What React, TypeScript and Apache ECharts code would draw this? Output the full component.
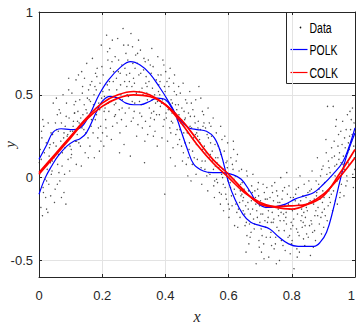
import React, { useEffect, useRef } from "react";
import * as echarts from "echarts";

const xTicks = [0, 0.2, 0.4, 0.6, 0.8, 1];
const yTicks = [-0.5, 0, 0.5, 1];

const dataPoints: [number, number][] = [
  [0.001,0.09],[0.006,-0.18],[0.009,0.24],[0.013,-0.06],[0.002,0.02],[0.017,0.15],[0.011,-0.23],[0.015,0.31],[0.019,-0.01],[0.007,0.11],
  [0.021,-0.12],[0.033,0.18],[0.026,0.05],[0.038,0.27],[0.024,-0.19],[0.036,0.09],[0.029,0.33],[0.031,-0.04],[0.023,0.21],[0.039,0.02],
  [0.043,0.26],[0.051,-0.07],[0.047,0.12],[0.058,0.38],[0.041,0.04],[0.054,0.19],[0.049,-0.15],[0.056,0.29],[0.045,0.45],[0.059,0.08],
  [0.062,0.14],[0.071,0.33],[0.066,-0.02],[0.078,0.24],[0.064,0.41],[0.073,0.07],[0.069,0.22],[0.076,0.50],[0.061,0.28],[0.079,-0.09],
  [0.083,0.31],[0.092,0.11],[0.087,0.45],[0.098,0.19],[0.081,0.02],[0.095,0.36],[0.089,0.25],[0.094,0.53],[0.085,-0.16],[0.099,0.28],
  [0.102,0.17],[0.113,0.39],[0.106,0.28],[0.118,0.08],[0.104,0.51],[0.115,0.22],[0.109,0.34],[0.117,0.59],[0.101,0.12],[0.111,0.44],
  [0.123,0.40],[0.131,0.19],[0.127,0.33],[0.138,0.55],[0.121,0.26],[0.134,0.07],[0.129,0.47],[0.136,0.30],[0.125,0.62],[0.139,0.38],
  [0.142,0.29],[0.153,0.48],[0.146,0.15],[0.158,0.37],[0.144,0.60],[0.155,0.24],[0.149,0.41],[0.157,0.53],[0.141,0.34],[0.151,0.69],
  [0.163,0.46],[0.171,0.27],[0.167,0.58],[0.178,0.35],[0.161,0.19],[0.174,0.50],[0.169,0.72],[0.176,0.41],[0.165,0.31],[0.179,0.63],
  [0.182,0.38],[0.193,0.57],[0.186,0.24],[0.198,0.48],[0.184,0.66],[0.195,0.31],[0.189,0.45],[0.197,0.80],[0.181,0.53],[0.191,0.16],
  [0.203,0.62],[0.211,0.35],[0.207,0.49],[0.218,0.71],[0.201,0.27],[0.214,0.86],[0.209,0.42],[0.216,0.56],[0.205,0.19],[0.219,0.45],
  [0.222,0.53],[0.233,0.31],[0.226,0.66],[0.238,0.44],[0.224,0.78],[0.235,0.58],[0.229,0.23],[0.237,0.49],[0.221,0.40],[0.231,0.70],
  [0.243,0.45],[0.251,0.64],[0.247,0.33],[0.258,0.56],[0.241,0.73],[0.254,0.41],[0.249,0.84],[0.256,0.27],[0.245,0.60],[0.259,0.50],
  [0.262,0.68],[0.273,0.39],[0.266,0.90],[0.278,0.55],[0.264,0.47],[0.275,0.75],[0.269,0.20],[0.277,0.62],[0.261,0.35],[0.271,0.58],
  [0.283,0.49],[0.291,0.87],[0.287,0.63],[0.298,0.36],[0.281,0.71],[0.294,0.55],[0.289,0.13],[0.296,0.79],[0.285,0.42],[0.299,0.60],
  [0.302,0.57],[0.313,0.32],[0.306,0.74],[0.318,0.46],[0.304,0.66],[0.315,0.83],[0.309,0.25],[0.317,0.52],[0.301,0.40],[0.311,0.69],
  [0.323,0.44],[0.331,0.65],[0.327,0.30],[0.338,0.57],[0.321,0.77],[0.334,0.09],[0.329,0.50],[0.336,0.70],[0.325,0.37],[0.339,0.61],
  [0.342,0.55],[0.353,0.36],[0.346,0.71],[0.358,0.47],[0.344,0.26],[0.355,0.63],[0.349,0.42],[0.357,0.78],[0.341,0.51],[0.351,0.31],
  [0.363,0.40],[0.371,0.59],[0.367,0.28],[0.378,0.52],[0.361,0.67],[0.374,0.19],[0.369,0.45],[0.376,0.73],[0.365,0.35],[0.379,0.56],
  [0.382,0.50],[0.393,0.31],[0.386,0.62],[0.398,-0.10],[0.384,0.43],[0.395,0.68],[0.389,0.24],[0.397,0.55],[0.381,0.38],[0.391,0.47],
  [0.403,0.36],[0.411,0.55],[0.407,0.22],[0.418,0.47],[0.401,0.64],[0.414,0.30],[0.409,0.41],[0.416,0.12],[0.405,0.58],[0.419,0.34],
  [0.422,0.45],[0.433,0.26],[0.426,0.57],[0.438,0.35],[0.424,0.18],[0.435,0.50],[0.429,0.62],[0.437,0.29],[0.421,0.39],[0.431,0.07],
  [0.443,0.38],[0.451,0.19],[0.447,0.51],[0.458,0.27],[0.441,0.44],[0.454,0.10],[0.449,0.33],[0.456,0.57],[0.445,0.23],[0.459,0.40],
  [0.462,0.21],[0.473,0.39],[0.466,0.08],[0.478,0.31],[0.464,0.47],[0.475,0.17],[0.469,0.27],[0.477,0.52],[0.461,0.35],[0.471,0.01],
  [0.483,0.30],[0.491,0.12],[0.487,0.41],[0.498,0.20],[0.481,-0.02],[0.494,0.33],[0.489,0.24],[0.496,0.47],[0.485,0.08],[0.499,0.27],
  [0.502,0.25],[0.513,0.06],[0.506,0.55],[0.518,0.17],[0.504,0.34],[0.515,-0.04],[0.509,0.21],[0.517,0.40],[0.501,0.11],[0.511,0.29],
  [0.523,0.19],[0.531,0.01],[0.527,0.30],[0.538,0.12],[0.521,0.38],[0.534,-0.08],[0.529,0.15],[0.536,0.24],[0.525,0.05],[0.539,0.33],
  [0.542,0.14],[0.553,-0.05],[0.546,0.25],[0.558,0.07],[0.544,0.31],[0.555,-0.12],[0.549,0.10],[0.557,0.20],[0.541,0.02],[0.551,0.36],
  [0.563,0.09],[0.571,-0.09],[0.567,0.19],[0.578,0.02],[0.561,0.27],[0.574,-0.16],[0.569,0.06],[0.576,0.14],[0.565,-0.03],[0.579,0.23],
  [0.582,0.05],[0.593,-0.13],[0.586,0.16],[0.598,-0.02],[0.584,-0.20],[0.595,0.10],[0.589,-0.06],[0.597,0.21],[0.581,0.00],[0.591,-0.10],
  [0.603,0.01],[0.611,-0.17],[0.607,0.12],[0.618,-0.07],[0.601,-0.24],[0.614,0.05],[0.609,-0.11],[0.616,0.17],[0.605,-0.03],[0.619,-0.29],
  [0.622,-0.10],[0.633,0.04],[0.626,-0.21],[0.638,-0.04],[0.624,0.10],[0.635,-0.15],[0.629,-0.30],[0.637,-0.08],[0.621,0.01],[0.631,-0.19],
  [0.643,-0.03],[0.651,-0.22],[0.647,-0.12],[0.658,-0.35],[0.641,0.05],[0.654,-0.17],[0.649,-0.07],[0.656,-0.27],[0.645,-0.14],[0.659,0.01],
  [0.662,-0.19],[0.673,-0.05],[0.666,-0.28],[0.678,-0.13],[0.664,-0.40],[0.675,-0.09],[0.669,-0.22],[0.677,0.02],[0.661,-0.15],[0.671,-0.33],
  [0.683,-0.08],[0.691,-0.24],[0.687,-0.52],[0.698,-0.17],[0.681,-0.31],[0.694,-0.03],[0.689,-0.20],[0.696,-0.38],[0.685,-0.12],[0.699,-0.27],
  [0.702,-0.22],[0.713,-0.09],[0.706,-0.35],[0.718,-0.18],[0.704,-0.45],[0.715,-0.26],[0.709,-0.04],[0.717,-0.30],[0.701,-0.14],[0.711,-0.40],
  [0.723,-0.27],[0.731,-0.12],[0.727,-0.48],[0.738,-0.21],[0.721,-0.06],[0.734,-0.33],[0.729,-0.17],[0.736,-0.41],[0.725,-0.24],[0.739,-0.09],
  [0.742,-0.14],[0.753,-0.30],[0.746,-0.03],[0.758,-0.23],[0.744,-0.43],[0.755,-0.11],[0.749,-0.36],[0.757,-0.19],[0.741,-0.27],[0.751,-0.52],
  [0.763,-0.26],[0.771,-0.08],[0.767,-0.38],[0.778,-0.17],[0.761,-0.50],[0.774,-0.22],[0.769,-0.13],[0.776,-0.32],[0.765,0.00],[0.779,-0.44],
  [0.782,-0.21],[0.793,-0.35],[0.786,-0.10],[0.798,-0.27],[0.784,0.03],[0.795,-0.46],[0.789,-0.16],[0.797,-0.31],[0.781,-0.24],[0.791,-0.05],
  [0.803,-0.29],[0.811,-0.14],[0.807,-0.55],[0.818,-0.22],[0.801,-0.38],[0.814,-0.07],[0.809,-0.19],[0.816,-0.43],[0.805,-0.12],[0.819,-0.33],
  [0.822,-0.16],[0.833,-0.30],[0.826,0.01],[0.838,-0.21],[0.824,-0.45],[0.835,-0.11],[0.829,-0.26],[0.837,-0.37],[0.821,-0.06],[0.831,-0.19],
  [0.843,-0.24],[0.851,-0.09],[0.847,-0.34],[0.858,-0.14],[0.841,-0.41],[0.854,-0.02],[0.849,-0.20],[0.856,-0.29],[0.845,-0.12],[0.859,-0.47],
  [0.862,-0.07],[0.873,-0.23],[0.866,-0.33],[0.878,-0.11],[0.864,0.04],[0.875,-0.38],[0.869,-0.16],[0.877,-0.02],[0.861,-0.26],[0.871,-0.13],
  [0.883,-0.18],[0.891,0.01],[0.887,-0.28],[0.898,-0.08],[0.881,0.12],[0.894,-0.34],[0.889,-0.13],[0.896,-0.21],[0.885,-0.04],[0.899,0.07],
  [0.902,-0.12],[0.913,0.43],[0.906,-0.23],[0.918,0.06],[0.904,-0.03],[0.915,-0.17],[0.909,0.15],[0.917,-0.08],[0.901,-0.30],[0.911,0.02],
  [0.923,-0.06],[0.931,0.43],[0.927,0.12],[0.938,-0.14],[0.921,0.03],[0.934,0.22],[0.929,-0.20],[0.936,0.07],[0.925,-0.10],[0.939,0.31],
  [0.942,0.08],[0.953,-0.09],[0.946,0.19],[0.958,0.02],[0.944,-0.16],[0.955,0.28],[0.949,0.11],[0.957,-0.04],[0.941,0.35],[0.951,0.15],
  [0.963,0.13],[0.971,-0.05],[0.967,0.24],[0.978,0.09],[0.961,0.34],[0.974,0.01],[0.969,0.18],[0.976,0.38],[0.965,-0.11],[0.979,0.21],
  [0.982,0.17],[0.993,0.02],[0.986,0.29],[0.998,0.12],[0.984,0.40],[0.995,-0.06],[0.989,0.22],[0.997,0.33],[0.981,0.08],[0.991,0.26],
  [0.004,0.17],[0.014,-0.09],[0.035,0.20],[0.028,-0.21],[0.019,0.07],[0.008,0.28],[0.032,0.13],[0.024,-0.02],[0.037,-0.11],[0.012,0.35],
  [0.046,0.21],[0.063,0.03],[0.052,0.33],[0.074,0.15],[0.058,-0.04],[0.068,0.39],[0.042,0.10],[0.079,0.27],[0.055,0.48],[0.071,-0.12],
  [0.086,0.37],[0.103,0.14],[0.091,0.26],[0.116,0.46],[0.097,0.04],[0.108,0.31],[0.082,0.18],[0.119,0.22],[0.094,0.60],[0.112,0.39],
  [0.126,0.21],[0.143,0.44],[0.132,0.36],[0.156,0.12],[0.137,0.51],[0.148,0.27],[0.122,0.34],[0.159,0.47],[0.135,0.64],[0.152,0.39],
  [0.166,0.35],[0.183,0.61],[0.172,0.44],[0.196,0.22],[0.177,0.55],[0.188,0.30],[0.162,0.56],[0.199,0.67],[0.175,0.12],[0.192,0.41],
  [0.206,0.40],[0.223,0.58],[0.212,0.30],[0.236,0.64],[0.217,0.76],[0.228,0.46],[0.202,0.52],[0.239,0.37],[0.215,0.25],[0.232,0.83],
  [0.246,0.53],[0.263,0.42],[0.252,0.71],[0.276,0.31],[0.257,0.63],[0.268,0.80],[0.242,0.38],[0.279,0.50],[0.255,0.15],[0.272,0.66],
  [0.286,0.58],[0.303,0.45],[0.292,0.34],[0.316,0.62],[0.297,0.69],[0.308,0.51],[0.282,0.80],[0.319,0.39],[0.295,0.46],[0.312,0.75],
  [0.326,0.54],[0.343,0.47],[0.332,0.72],[0.356,0.39],[0.337,0.34],[0.348,0.58],[0.322,0.63],[0.359,0.54],[0.335,0.22],[0.352,0.68],
  [0.366,0.50],[0.383,0.58],[0.372,0.38],[0.396,0.35],[0.377,0.62],[0.388,0.45],[0.362,0.25],[0.399,0.52],[0.375,0.46],[0.392,0.71],
  [0.406,0.47],[0.423,0.33],[0.412,0.60],[0.436,0.41],[0.417,0.27],[0.428,0.52],[0.402,0.39],[0.439,0.20],[0.415,0.66],[0.432,0.44],
  [0.446,0.29],[0.463,0.36],[0.452,0.42],[0.476,0.21],[0.457,0.15],[0.468,0.45],[0.442,0.55],[0.479,0.37],[0.455,0.32],[0.472,0.12],
  [0.486,0.16],[0.503,0.30],[0.492,0.37],[0.516,0.10],[0.497,0.02],[0.508,0.23],[0.482,0.45],[0.519,0.31],[0.495,0.26],[0.512,0.48],
  [0.526,0.10],[0.543,0.21],[0.532,0.26],[0.556,-0.02],[0.537,0.03],[0.548,0.16],[0.522,0.33],[0.559,0.12],[0.535,0.42],[0.552,0.05],
  [0.566,0.12],[0.583,-0.04],[0.572,0.17],[0.596,0.06],[0.577,-0.10],[0.588,0.25],[0.562,-0.01],[0.599,-0.16],[0.575,0.31],[0.592,0.09],
  [0.606,-0.06],[0.623,-0.16],[0.612,0.08],[0.636,-0.24],[0.617,-0.01],[0.628,0.14],[0.602,-0.19],[0.639,-0.11],[0.615,0.22],[0.632,-0.05],
  [0.646,-0.20],[0.663,-0.08],[0.652,-0.29],[0.676,-0.19],[0.657,0.04],[0.668,-0.36],[0.642,-0.10],[0.679,-0.25],[0.655,-0.45],[0.672,-0.14],
  [0.686,-0.16],[0.703,-0.31],[0.692,-0.07],[0.716,-0.13],[0.697,-0.42],[0.708,-0.22],[0.682,-0.28],[0.719,-0.36],[0.695,-0.11],[0.712,-0.49],
  [0.726,-0.20],[0.743,-0.25],[0.732,-0.36],[0.756,-0.15],[0.737,-0.05],[0.748,-0.40],[0.722,-0.13],[0.759,-0.32],[0.735,-0.27],[0.752,-0.08],
  [0.766,-0.21],[0.783,-0.28],[0.772,-0.41],[0.796,-0.12],[0.777,-0.06],[0.788,-0.36],[0.762,-0.15],[0.799,-0.40],[0.775,-0.26],[0.792,-0.19],
  [0.806,-0.25],[0.823,-0.35],[0.812,-0.10],[0.836,-0.27],[0.817,-0.48],[0.828,-0.14],[0.802,-0.20],[0.839,-0.04],[0.815,-0.31],[0.832,-0.23],
  [0.846,-0.18],[0.863,-0.28],[0.852,-0.36],[0.876,-0.20],[0.857,-0.08],[0.868,-0.42],[0.842,-0.29],[0.879,-0.09],[0.855,-0.15],[0.872,-0.32],
  [0.886,-0.07],[0.903,-0.19],[0.892,-0.24],[0.916,0.10],[0.897,-0.15],[0.908,0.23],[0.882,-0.23],[0.919,-0.12],[0.895,0.05],[0.912,-0.26],
  [0.926,0.18],[0.943,-0.02],[0.932,-0.08],[0.956,0.09],[0.937,0.01],[0.948,0.26],[0.922,-0.15],[0.959,0.20],[0.935,0.13],[0.952,-0.12],
  [0.966,0.05],[0.983,0.25],[0.972,0.29],[0.996,0.19],[0.977,0.15],[0.988,0.35],[0.962,0.08],[0.999,0.05],[0.975,-0.02],[0.992,0.42],
];

const polkA: [number, number][] = [
  [0,0.11],[0.025,0.20],[0.045,0.275],[0.07,0.295],[0.1,0.29],[0.13,0.30],[0.16,0.38],[0.19,0.50],
  [0.22,0.59],[0.26,0.67],[0.29,0.70],[0.32,0.68],[0.35,0.63],[0.38,0.55],[0.41,0.46],[0.43,0.39],
  [0.45,0.28],[0.47,0.17],[0.49,0.08],[0.52,0.04],[0.55,0.03],[0.58,0.03],[0.61,0.02],[0.64,-0.01],
  [0.67,-0.09],[0.69,-0.15],[0.72,-0.18],[0.75,-0.175],[0.78,-0.16],[0.81,-0.13],[0.84,-0.11],
  [0.87,-0.09],[0.9,-0.04],[0.93,0.02],[0.96,0.09],[0.98,0.18],[1,0.30],
];
const polkB: [number, number][] = [
  [0,-0.10],[0.02,0.0],[0.04,0.07],[0.06,0.13],[0.088,0.19],[0.11,0.22],[0.13,0.235],[0.15,0.27],
  [0.18,0.39],[0.2,0.46],[0.225,0.49],[0.25,0.48],[0.275,0.45],[0.3,0.44],[0.32,0.44],[0.35,0.46],
  [0.374,0.48],[0.4,0.47],[0.427,0.40],[0.45,0.34],[0.475,0.30],[0.5,0.29],[0.53,0.28],[0.555,0.24],
  [0.575,0.15],[0.6,-0.03],[0.62,-0.13],[0.645,-0.22],[0.67,-0.27],[0.7,-0.29],[0.73,-0.31],
  [0.76,-0.36],[0.79,-0.40],[0.82,-0.415],[0.87,-0.415],[0.89,-0.39],[0.91,-0.33],[0.93,-0.2],
  [0.955,0.0],[0.975,0.14],[1,0.27],
];
const colkA: [number, number][] = [
  [0,0.03],[0.05,0.14],[0.1,0.25],[0.15,0.36],[0.2,0.45],[0.25,0.50],[0.3,0.52],[0.35,0.50],
  [0.4,0.44],[0.45,0.33],[0.5,0.20],[0.55,0.09],[0.6,0.0],[0.65,-0.09],[0.7,-0.15],[0.75,-0.18],
  [0.8,-0.19],[0.85,-0.16],[0.9,-0.10],[0.95,0.0],[1,0.12],
];
const colkB: [number, number][] = [
  [0,0.02],[0.05,0.13],[0.1,0.24],[0.15,0.35],[0.2,0.43],[0.25,0.48],[0.3,0.50],[0.35,0.49],
  [0.4,0.44],[0.45,0.35],[0.5,0.23],[0.55,0.11],[0.6,0.02],[0.65,-0.08],[0.7,-0.16],[0.75,-0.175],
  [0.8,-0.17],[0.85,-0.16],[0.9,-0.11],[0.95,0.02],[1,0.17],
];

const FONT = "'Liberation Sans', Arial, sans-serif";
const SERIF = "'Liberation Serif', 'DejaVu Serif', serif";
const AX = "#262626";

export default function App() {
  const ref = useRef<HTMLDivElement>(null);
  useEffect(() => {
    const chart = echarts.init(ref.current!, null, { renderer: "svg" });
    const lineSeries = (name: string, data: [number, number][], color: string, width: number) => ({
      name, type: "line", data, smooth: 0.4, symbol: "none", showSymbol: false,
      lineStyle: { color, width }, itemStyle: { color }, z: 3,
    });
    const legendText = (text: string, y: number) => ({
      type: "text", x: 23, y, scaleX: 0.7,
      style: { text, font: `15px ${FONT}`, fill: "#000", textVerticalAlign: "middle" },
    });
    chart.setOption({
      animation: false,
      backgroundColor: "#ffffff",
      grid: { left: 39, right: 2, top: 12, bottom: 50, containLabel: false, outerBoundsMode: "none" },
      xAxis: [
        {
          type: "value", min: 0, max: 1, interval: 0.2, position: "bottom",
          name: "x", nameLocation: "middle", nameGap: 31, nameMoveOverlap: false,
          nameTextStyle: { fontFamily: SERIF, fontStyle: "italic", fontSize: 16, color: AX },
          axisLine: { show: true, onZero: false, lineStyle: { color: AX, width: 1 } },
          axisTick: { show: true, inside: true, length: 3, lineStyle: { color: AX } },
          axisLabel: { color: AX, fontFamily: FONT, fontSize: 13, margin: 12, alignMaxLabel: "right",
            formatter: (v: number) => { const r = Math.round(v * 10) / 10; return xTicks.includes(r) ? String(r) : ""; } },
          splitLine: { show: true, lineStyle: { color: "#e3e3e3", width: 1 } },
        },
        {
          type: "value", min: 0, max: 1, interval: 0.2, position: "top",
          axisLine: { show: true, onZero: false, lineStyle: { color: AX, width: 1 } },
          axisTick: { show: true, inside: true, length: 3, lineStyle: { color: AX } },
          axisLabel: { show: false }, splitLine: { show: false },
        },
      ],
      yAxis: [
        {
          type: "value", min: -0.6, max: 1, position: "left",
          name: "y", nameLocation: "middle", nameGap: 22, nameRotate: 90, nameMoveOverlap: false,
          nameTextStyle: { fontFamily: SERIF, fontStyle: "italic", fontSize: 15, color: AX },
          axisLine: { show: true, onZero: false, lineStyle: { color: AX, width: 1 } },
          axisTick: { show: true, inside: true, length: 3, lineStyle: { color: AX }, customValues: yTicks },
          axisLabel: { color: AX, fontFamily: FONT, fontSize: 13, margin: 6, customValues: yTicks },
          splitLine: { show: true, lineStyle: { color: "#e3e3e3", width: 1 } },
        },
        {
          type: "value", min: -0.6, max: 1, position: "right",
          axisLine: { show: true, onZero: false, lineStyle: { color: AX, width: 1 } },
          axisTick: { show: true, inside: true, length: 3, lineStyle: { color: AX }, customValues: yTicks },
          axisLabel: { show: false }, splitLine: { show: false },
        },
      ],
      series: [
        {
          name: "Data", type: "scatter", data: dataPoints, symbol: "circle", symbolSize: 1.4,
          itemStyle: { color: "#222222" }, z: 2,
        },
        lineSeries("POLK", polkA, "#0000ff", 1.2),
        lineSeries("POLK", polkB, "#0000ff", 1.2),
        lineSeries("COLK", colkA, "#ff0000", 1.7),
        lineSeries("COLK", colkB, "#ff0000", 1.7),
      ],
      graphic: [
        {
          type: "group", left: 286, top: 12, z: 100,
          children: [
            { type: "rect", shape: { x: 0, y: 0, width: 69, height: 71 }, style: { fill: "#ffffff", stroke: AX, lineWidth: 1 } },
            { type: "circle", shape: { cx: 14, cy: 15, r: 0.8 }, style: { fill: "#111111" } },
            { type: "line", shape: { x1: 4, y1: 37, x2: 21, y2: 37 }, style: { stroke: "#0000ff", lineWidth: 1.2 } },
            { type: "line", shape: { x1: 4, y1: 60, x2: 21, y2: 60 }, style: { stroke: "#ff0000", lineWidth: 1.2 } },
            legendText("Data", 15),
            legendText("POLK", 37),
            legendText("COLK", 60),
          ],
        },
      ],
    });
    return () => chart.dispose();
  }, []);
  return <div ref={ref} style={{ position: "fixed", left: 0, top: 0, width: 357, height: 327 }} />;
}
